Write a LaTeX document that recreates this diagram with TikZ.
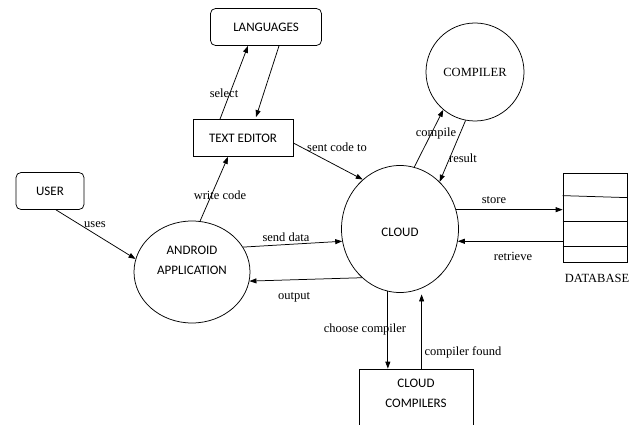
\documentclass[tikz,border=0pt]{standalone}
\usepackage{fontspec}
\setmainfont{Liberation Serif}
\newfontfamily\boxfont{Carlito}
\usetikzlibrary{arrows.meta}
\usetikzlibrary{shapes.geometric}
\tikzset{
  box/.style={draw, inner sep=0pt, font=\boxfont\fontsize{13}{20}\selectfont},
  rbox/.style={box, rounded corners=5pt},
  bubble/.style={box, ellipse},
  flow/.style={-{Triangle[length=7pt,width=5pt]}},
  lbl/.style={inner sep=0pt, font=\fontsize{12.5}{14}\selectfont}
}
\begin{document}
\begin{tikzpicture}[x=1pt, y=-1pt, line width=.75pt]
        \useasboundingbox (0,0) rectangle (638,425);

        % processes and stores
        \node[rbox, minimum width=111pt, minimum height=37pt] (lang) at (266,27) {LANGUAGES};
        \node[box, minimum width=100pt, minimum height=37pt] (te) at (243,138) {TEXT EDITOR};
        \node[rbox, minimum width=68pt, minimum height=37pt] (user) at (50,191) {USER};
        \node[bubble, minimum width=116pt, minimum height=102pt,
              label={[name=andtxt, align=center, yshift=12pt,
                      font=\boxfont\fontsize{13}{20}\selectfont]center:ANDROID\\APPLICATION}] (and) at (192,272) {};
        \node[bubble, minimum width=117pt, minimum height=127pt,
              label={[name=cloudtxt, yshift=-3pt,
                      font=\boxfont\fontsize{13}{20}\selectfont]center:CLOUD}] (cloud) at (400,229) {};
        \node[draw, circle, inner sep=0pt, minimum size=98pt,
              font=\fontsize{12.5}{14}\selectfont] (comp) at (475,72) {COMPILER};
        \node[draw, inner sep=0pt, minimum width=64pt, minimum height=89pt] (db) at (595,217.5) {};
        \node[box, minimum width=114pt, minimum height=62pt,
              label={[name=cctxt, align=center, yshift=6.5pt,
                      font=\boxfont\fontsize{13}{20}\selectfont]center:CLOUD\\COMPILERS}] (cc) at (416,400) {};

        % database rows
        \draw ([yshift=-23pt]db.north west) -- ([yshift=-25pt]db.north east);
        \draw ([yshift=-49pt]db.north west) -- ([yshift=-49pt]db.north east);
        \draw ([yshift=-74pt]db.north west) -- ([yshift=-74pt]db.north east);
        \node[lbl] (dbname) at (597,278) {DATABASE};

        % flows
        \draw[flow] ([xshift=-23pt]te.north) -- ([xshift=-18pt]lang.south);
        \draw[flow] ([xshift=13pt]lang.south) -- ([xshift=13pt,yshift=2pt]te.north);
        \draw[flow] (and.81) -- ([xshift=-15pt]te.south);
        \draw[flow] ([yshift=-5pt]te.east) -- (cloud.127);
        \draw[flow] ([xshift=6pt]user.south) -- (and.167);
        \draw[flow] (and.26) -- (cloud.192);
        \draw[flow] (cloud.232) -- (and.351);
        \draw[flow] (cloud.77) -- (comp.230);
        \draw[flow] (comp.259) -- (cloud.50);
        \draw[flow] (cloud.19) -- (cloud.19 -| db.west);
        \draw[flow] (cloud.-12 -| db.west) -- (cloud.-12);
        \draw[flow] (cloud.259) -- (cloud.259 |- cc.north);
        \draw[flow] (cc.north -| cloud.290) -- ([yshift=-6pt]cloud.290);

        % flow labels
        \node[lbl] (select) at (224,93) {select};
        \node[lbl] (write) at (220,195) {write code};
        \node[lbl] (sent) at (337,147) {sent code to};
        \node[lbl] (uses) at (95,225) {uses};
        \node[lbl] (senddata) at (286,237) {send data};
        \node[lbl] (output) at (294,297) {output};
        \node[lbl] (compile) at (436,133) {compile};
        \node[lbl] (result) at (463,158) {result};
        \node[lbl] (store) at (494,200) {store};
        \node[lbl] (retrieve) at (513,256) {retrieve};
        \node[lbl] (choose) at (365,329) {choose compiler};
        \node[lbl] (found) at (463,352) {compiler found};
\end{tikzpicture}
\end{document}
